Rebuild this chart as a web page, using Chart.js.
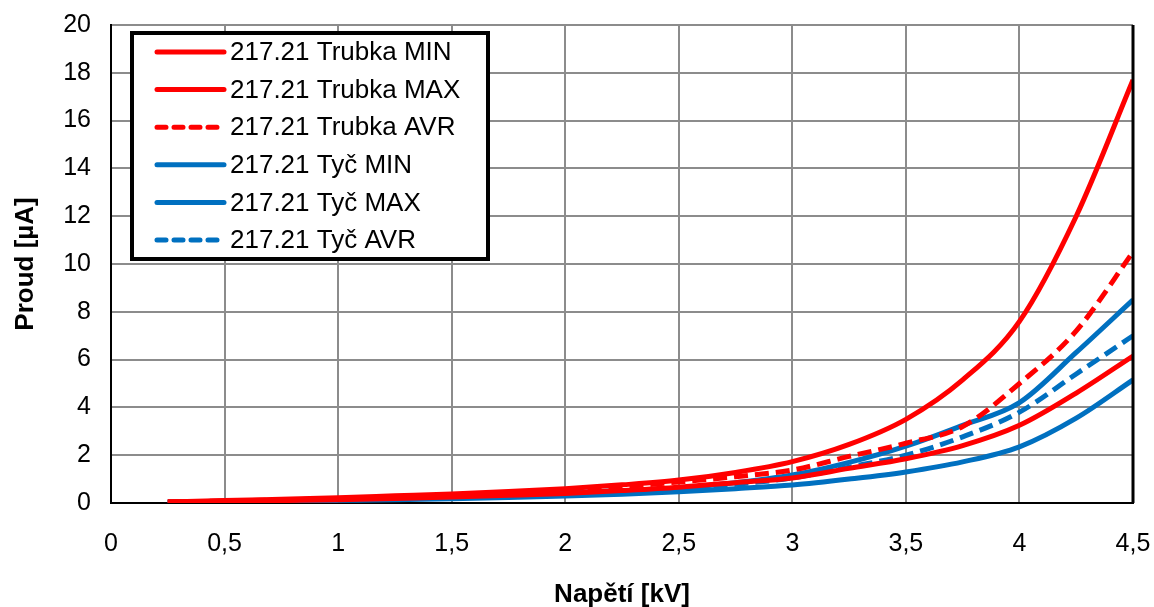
<!DOCTYPE html>
<html>
<head>
<meta charset="utf-8">
<script src="https://cdn.jsdelivr.net/npm/chart.js@4/dist/chart.umd.min.js"></script>
<style>
  html, body { margin: 0; padding: 0; background: #fff; overflow: hidden; }
  #wrap { width: 1154px; height: 607px; position: relative; }
  canvas { display: block; }
</style>
</head>
<body>
<div id="wrap"><canvas id="lineChart"></canvas></div>
<script>
// napětí [kV]
var napeti = [0.25, 0.5, 0.75, 1, 1.25, 1.5, 1.75, 2, 2.25, 2.5, 2.75, 3, 3.25, 3.5, 3.75, 4, 4.25, 4.5];
// proud [µA]
var trubkaMin = [0.03, 0.06, 0.1, 0.14, 0.19, 0.25, 0.32, 0.4, 0.52, 0.66, 0.85, 1.05, 1.45, 1.85, 2.4, 3.25, 4.6, 6.15];
var trubkaMax = [0.05, 0.1, 0.16, 0.22, 0.3, 0.38, 0.48, 0.6, 0.76, 0.96, 1.28, 1.73, 2.45, 3.5, 5.15, 7.6, 12.0, 17.7];
var trubkaAvr = [0.04, 0.08, 0.13, 0.18, 0.25, 0.32, 0.41, 0.52, 0.68, 0.88, 1.1, 1.38, 1.95, 2.5, 3.2, 5.0, 7.2, 10.5];
var tycMin = [0.03, 0.05, 0.08, 0.11, 0.14, 0.18, 0.23, 0.29, 0.37, 0.47, 0.6, 0.75, 1.0, 1.3, 1.72, 2.35, 3.55, 5.15];
var tycMax = [0.04, 0.07, 0.11, 0.15, 0.2, 0.26, 0.33, 0.42, 0.52, 0.63, 0.85, 1.17, 1.7, 2.38, 3.25, 4.2, 6.3, 8.5];
var tycAvr = [0.035, 0.06, 0.09, 0.13, 0.17, 0.22, 0.28, 0.36, 0.45, 0.56, 0.78, 1.05, 1.5, 2.0, 2.77, 3.8, 5.4, 7.0];
var nazvy = ["217.21 Trubka MIN", "217.21 Trubka MAX", "217.21 Trubka AVR", "217.21 Tyč MIN", "217.21 Tyč MAX", "217.21 Tyč AVR"];

var RED = '#ff0000';
var BLUE = '#0070c0';
var FONT = "'Liberation Sans', Arial, sans-serif";

function body(arr) {
    return napeti.map(function(v, i) { return {x: v, y: arr[i]}; });
}

function serie(label, arr, color, dashed) {
    return {
        label: label,
        data: body(arr),
        borderColor: color,
        backgroundColor: color,
        borderWidth: 5,
        borderDash: dashed ? [14, 7] : [],
        pointRadius: 0,
        cubicInterpolationMode: 'monotone',
        fill: false,
        legendDash: dashed
    };
}

// legenda v rámečku jako v Excelu
var boxLegend = {
    id: 'boxLegend',
    afterDraw: function(chart) {
        var ctx = chart.ctx;
        var area = chart.chartArea;
        ctx.save();
        // pravý okraj grafu
        ctx.strokeStyle = '#000';
        ctx.lineWidth = 3;
        ctx.beginPath();
        ctx.moveTo(area.right, area.top);
        ctx.lineTo(area.right, area.bottom);
        ctx.stroke();

        var x0 = 132, y0 = 33, w = 356, h = 226;
        ctx.fillStyle = '#fff';
        ctx.fillRect(x0, y0, w, h);
        ctx.lineWidth = 4;
        ctx.strokeStyle = '#000';
        ctx.strokeRect(x0, y0, w, h);

        ctx.font = '26px ' + FONT;
        ctx.textBaseline = 'middle';
        ctx.textAlign = 'left';
        chart.data.datasets.forEach(function(ds, i) {
            var y = 52 + i * 37.6;
            ctx.strokeStyle = ds.borderColor;
            ctx.lineWidth = 5;
            ctx.lineCap = 'round';
            ctx.setLineDash(ds.legendDash ? [9, 8] : []);
            ctx.beginPath();
            ctx.moveTo(157, y);
            ctx.lineTo(224, y);
            ctx.stroke();
            ctx.setLineDash([]);
            ctx.fillStyle = '#000';
            ctx.fillText(ds.label, 230, y + 1);
        });
        ctx.restore();
    }
};

var ctx = document.getElementById('lineChart').getContext('2d');
new Chart(ctx, {
    type: 'line',
    data: {
        datasets: [
            serie(nazvy[0], trubkaMin, RED, false),
            serie(nazvy[1], trubkaMax, RED, false),
            serie(nazvy[2], trubkaAvr, RED, true),
            serie(nazvy[3], tycMin, BLUE, false),
            serie(nazvy[4], tycMax, BLUE, false),
            serie(nazvy[5], tycAvr, BLUE, true)
        ]
    },
    options: {
        responsive: true,
        maintainAspectRatio: false,
        animation: false,
        layout: { padding: { top: 25, right: 21, left: 0, bottom: 0 } },
        plugins: {
            legend: { display: false },
            tooltip: { enabled: false }
        },
        scales: {
            x: {
                type: 'linear',
                min: 0,
                max: 4.5,
                afterFit: function(s) {
                    s.height = 104;
                    s.paddingLeft = 0;
                    s.paddingRight = 0;
                },
                border: { color: '#000', width: 2 },
                grid: { color: '#8c8c8c', lineWidth: 2, drawTicks: false },
                ticks: {
                    stepSize: 0.5,
                    padding: 26,
                    color: '#000',
                    font: { family: FONT, size: 25 },
                    maxRotation: 0,
                    callback: function(v) { return String(v).replace('.', ','); }
                },
                title: {
                    display: true,
                    text: 'Napětí [kV]',
                    color: '#000',
                    font: { family: FONT, size: 26, weight: 'bold' },
                    padding: { top: 0, bottom: -3 }
                }
            },
            y: {
                min: 0,
                max: 20,
                afterFit: function(s) {
                    s.width = 111;
                    s.paddingTop = 0;
                    s.paddingBottom = 0;
                },
                border: { color: '#000', width: 2 },
                grid: { color: '#8c8c8c', lineWidth: 2, drawTicks: false },
                ticks: {
                    stepSize: 2,
                    padding: 20,
                    color: '#000',
                    font: { family: FONT, size: 25 }
                },
                title: {
                    display: true,
                    text: 'Proud [µA]',
                    color: '#000',
                    font: { family: FONT, size: 26, weight: 'bold' },
                    padding: { top: 10, bottom: 0 }
                }
            }
        }
    },
    plugins: [boxLegend]
});
</script>
</body>
</html>
